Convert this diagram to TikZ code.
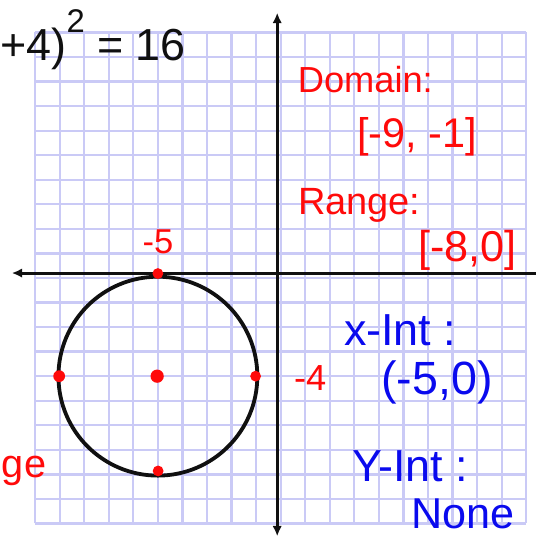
\documentclass[tikz,border=0pt]{standalone}
\usepackage{fontspec}
\setmainfont{Liberation Sans}
\usepackage{xcolor}
\usepackage{tikz}
\usetikzlibrary{arrows.meta,positioning}
\definecolor{GRGrid} {HTML}{CACAF6}
\definecolor{GRRed}  {HTML}{FF0A0A}
\definecolor{GRBlue} {HTML}{0A0AEE}
\definecolor{GRInk}  {HTML}{101010}
\tikzset{
  redtxt/.style={text=GRRed,inner sep=0pt},
  bluetxt/.style={text=GRBlue,inner sep=0pt},
  reddot/.style={fill=GRRed},
  axisline/.style={GRInk,line width=3.4pt}
}

\begin{document}
\begin{tikzpicture}
    \useasboundingbox[fill=white] (-11.43,-10.55) rectangle (10.37,11.32);
    % Grid paper
    \draw[GRGrid,line width=2.6pt] (-10,-10) grid (10,10);

    % Axes
    \coordinate (xl) at (-10.95,0.2);
    \coordinate (xr) at (10.5,0.2);
    \coordinate (yt) at (-0.14,10.8);
    \coordinate (yb) at (-0.14,-10.52);
    \draw[axisline,-{Latex[length=12pt,width=11pt]}] (xr) -- (xl);
    \draw[axisline,{Latex[length=12pt,width=11pt]}-{Latex[length=12pt,width=11pt]}] (yb) -- (yt);

    % Circle
    \draw[GRInk,line width=4.4pt] (-5,-4) circle (4.05);

    % Key points
    \fill[reddot] (-5,0.18)   circle (0.22);
    \fill[reddot] (-9.02,-4)  circle (0.24);
    \fill[reddot] (-1.02,-4)  circle (0.22);
    \fill[reddot] (-5.03,-4)  circle (0.27);
    \fill[reddot] (-4.99,-7.86) circle (0.22);

    % Equation
    \node[anchor=west,text=GRInk,inner sep=0pt,font=\fontsize{52}{54}\selectfont] (eqn) at (-11.42,9.7) {+4)\raisebox{0.62em}{\fontsize{38}{38}\selectfont 2} = 16};

    % Labels on the graph
    \node[redtxt,font=\fontsize{40}{42}\selectfont] (lblfive) at (-5.0,1.47)  {-5};
    \node[redtxt,font=\fontsize{42}{44}\selectfont] (lblfour) at (1.2,-4.07) {-4};
    \node[redtxt,font=\fontsize{46}{48}\selectfont] (lblge)   at (-10.45,-7.85) {ge};

    % Domain and range
    \node[redtxt,font=\fontsize{42}{44}\selectfont] (domain)  at (3.45,8.07)  {Domain:};
    \node[redtxt,font=\fontsize{48}{50}\selectfont] (domval)  at (5.55,5.74)  {[-9, -1]};
    \node[redtxt,font=\fontsize{44}{46}\selectfont] (range)   at (3.2,2.97)  {Range:};
    \node[redtxt,font=\fontsize{50}{52}\selectfont] (rngval)  at (7.6,1.14)   {[-8,0]};

    % Intercepts
    \node[bluetxt,font=\fontsize{52}{54}\selectfont] (xint)   at (4.87,-2.12) {x-Int :};
    \node[bluetxt,font=\fontsize{54}{56}\selectfont] (xintv)  at (6.37,-4.24) {(-5,0)};
    \node[bluetxt,font=\fontsize{52}{54}\selectfont] (yint)   at (5.28,-7.66) {Y-Int :};
    \node[bluetxt,font=\fontsize{50}{52}\selectfont] (yintv)  at (7.43,-9.6) {None};
  \end{tikzpicture}
\end{document}
